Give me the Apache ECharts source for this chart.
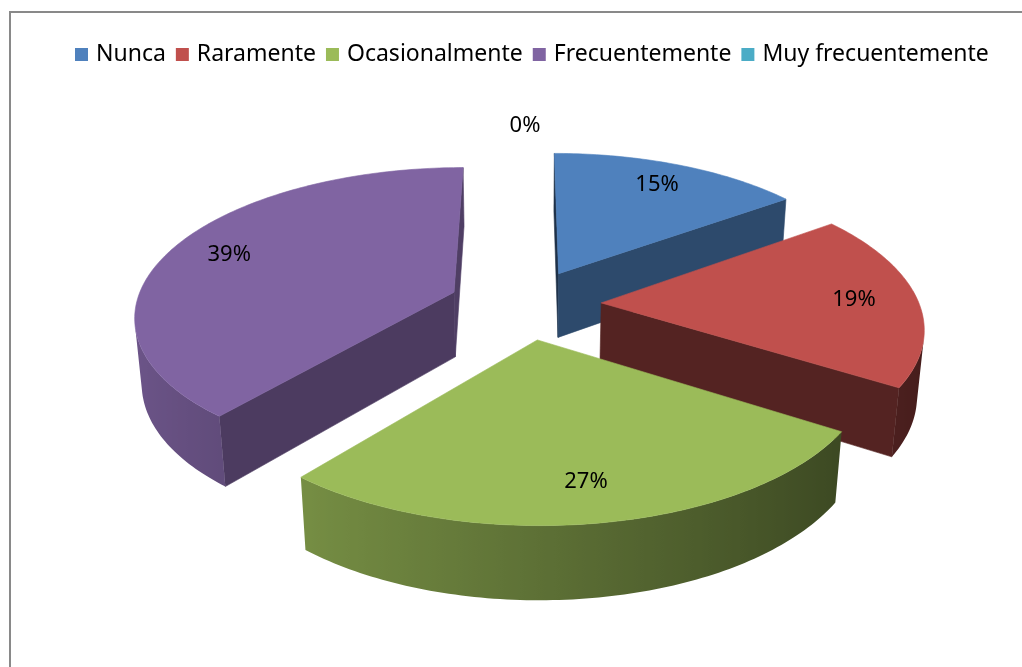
<!DOCTYPE html>
<html>
<head>
<meta charset="utf-8">
<style>
  html, body { margin: 0; padding: 0; background: #fff; }
  #chart { width: 1022px; height: 667px; }
</style>
<script src="https://cdn.jsdelivr.net/npm/echarts@6/dist/echarts.min.js"></script>
</head>
<body>
<div id="chart"></div>
<script>
const categories = ['Nunca', 'Raramente', 'Ocasionalmente', 'Frecuentemente', 'Muy frecuentemente'];
const values = [15, 19, 27, 39, 0];
const colors = ['#4F81BD', '#C0504D', '#9BBB59', '#8064A2', '#4BACC6'];

const chart = echarts.init(document.getElementById('chart'));

// vista 3D (radio = 1)
const view = { cx: 525, cy: 304, k: 318, f: 6, tilt: 27.4, depth: 0.235, explode: 0.24 };
const sa = Math.sin(view.tilt * Math.PI / 180);
const ca = Math.cos(view.tilt * Math.PI / 180);
const cam = [0, -view.f * ca, view.f * sa];

function project(x, y, z) {
    const v = y * sa + z * ca;
    const w = y * ca - z * sa;
    const s = view.f / (view.f + w);
    return [view.cx + view.k * x * s, view.cy - view.k * v * s];
}

function shade(hex, t) {
    const n = parseInt(hex.slice(1), 16);
    const r = Math.round(((n >> 16) & 255) * t);
    const g = Math.round(((n >> 8) & 255) * t);
    const b = Math.round((n & 255) * t);
    return 'rgb(' + r + ',' + g + ',' + b + ')';
}

function facing(n, p) {
    return n[0] * (cam[0] - p[0]) + n[1] * (cam[1] - p[1]) + n[2] * (cam[2] - p[2]) > 0;
}

function poly(pts, fill) {
    return {
        type: 'polygon',
        shape: { points: pts.map(p => project(p[0], p[1], p[2])) },
        style: { fill: fill, stroke: typeof fill === 'string' ? fill : null, lineWidth: 0.6 }
    };
}

const total = values.reduce((a, b) => a + b, 0);
const starts = [];
let acc = 0;
values.forEach(v => { starts.push(acc); acc += v; });

function angles(i) {
    const t1 = starts[i] / total * 2 * Math.PI;
    const t2 = (starts[i] + values[i]) / total * 2 * Math.PI;
    return [t1, t2, (t1 + t2) / 2];
}

function sliceGroup(i) {
    const [t1, t2, tm] = angles(i);
    const ox = view.explode * Math.sin(tm);
    const oy = view.explode * Math.cos(tm);
    const h = view.depth;
    const col = colors[i];
    const children = [];

    if (values[i] > 0) {
        const steps = Math.max(2, Math.ceil((t2 - t1) / (Math.PI / 180)));
        const rim = [];
        for (let j = 0; j <= steps; j++) {
            const t = t1 + (t2 - t1) * j / steps;
            rim.push([ox + Math.sin(t), oy + Math.cos(t), t]);
        }
        // paredes radiales
        [[t1, -1], [t2, 1]].forEach(([t, sg]) => {
            const n = [sg * Math.cos(t), -sg * Math.sin(t), 0];
            const px = ox + Math.sin(t), py = oy + Math.cos(t);
            if (facing(n, [ox, oy, 0])) {
                children.push(poly([[ox, oy, 0], [px, py, 0], [px, py, -h], [ox, oy, -h]], shade(col, 0.5 + 0.12 * n[0])));
            }
        });
        // pared exterior: un solo poligono con degradado horizontal
        const vis = rim.filter(p => facing([Math.sin(p[2]), Math.cos(p[2]), 0], [p[0], p[1], 0]));
        if (vis.length > 1) {
            const top = vis.map(p => [p[0], p[1], 0]);
            const bot = vis.map(p => [p[0], p[1], -h]).reverse();
            const xs = vis.map(p => project(p[0], p[1], 0)[0]);
            const x0 = Math.min.apply(null, xs), x1 = Math.max.apply(null, xs);
            const stops = vis.map((p, j) => ({
                offset: x1 > x0 ? (xs[j] - x0) / (x1 - x0) : 0,
                color: shade(col, 0.6 - 0.25 * Math.sin(p[2]))
            })).sort((a, b) => a.offset - b.offset);
            const grad = { type: 'linear', x: x0, y: 0, x2: x1, y2: 0, global: true, colorStops: stops };
            children.push(poly(top.concat(bot), grad));
        }
        // cara superior
        children.push(poly([[ox, oy, 0]].concat(rim.map(p => [p[0], p[1], 0])), col));
    }

    const lr = values[i] > 0 ? 0.8 : 1.25;
    const lp = project(ox + lr * Math.sin(tm), oy + lr * Math.cos(tm), 0);
    children.push({
        type: 'text',
        style: {
            text: Math.round(values[i] / total * 100) + '%',
            x: lp[0], y: lp[1],
            fill: '#000',
            fontFamily: 'Noto Sans', fontSize: 22,
            align: 'center', verticalAlign: 'middle'
        }
    });
    return { type: 'group', children: children };
}

// orden de dibujo: del fondo hacia el frente
const order = categories.map((c, i) => i)
    .sort((a, b) => (values[a] > 0 ? Math.cos(angles(a)[2]) : -9) - (values[b] > 0 ? Math.cos(angles(b)[2]) : -9))
    .reverse();

const option = {
    animation: false,
    graphic: [{
        type: 'rect',
        shape: { x: 10, y: 12, width: 1100, height: 700 },
        style: { fill: 'none', stroke: '#898989', lineWidth: 2 }
    }],
    legend: {
        data: categories,
        left: 70,
        top: 38,
        icon: 'rect',
        itemWidth: 13,
        itemHeight: 13,
        itemGap: 10,
        textStyle: { fontFamily: 'Noto Sans', fontSize: 23, color: '#000', padding: [0, 0, 0, 3] }
    },
    series: categories.map((name, i) => ({
        name: name,
        type: 'custom',
        coordinateSystem: 'none',
        z: 2 + order.indexOf(i),
        itemStyle: { color: colors[i] },
        data: [[values[i]]],
        renderItem: () => sliceGroup(i)
    }))
};

chart.setOption(option);
</script>
</body>
</html>
